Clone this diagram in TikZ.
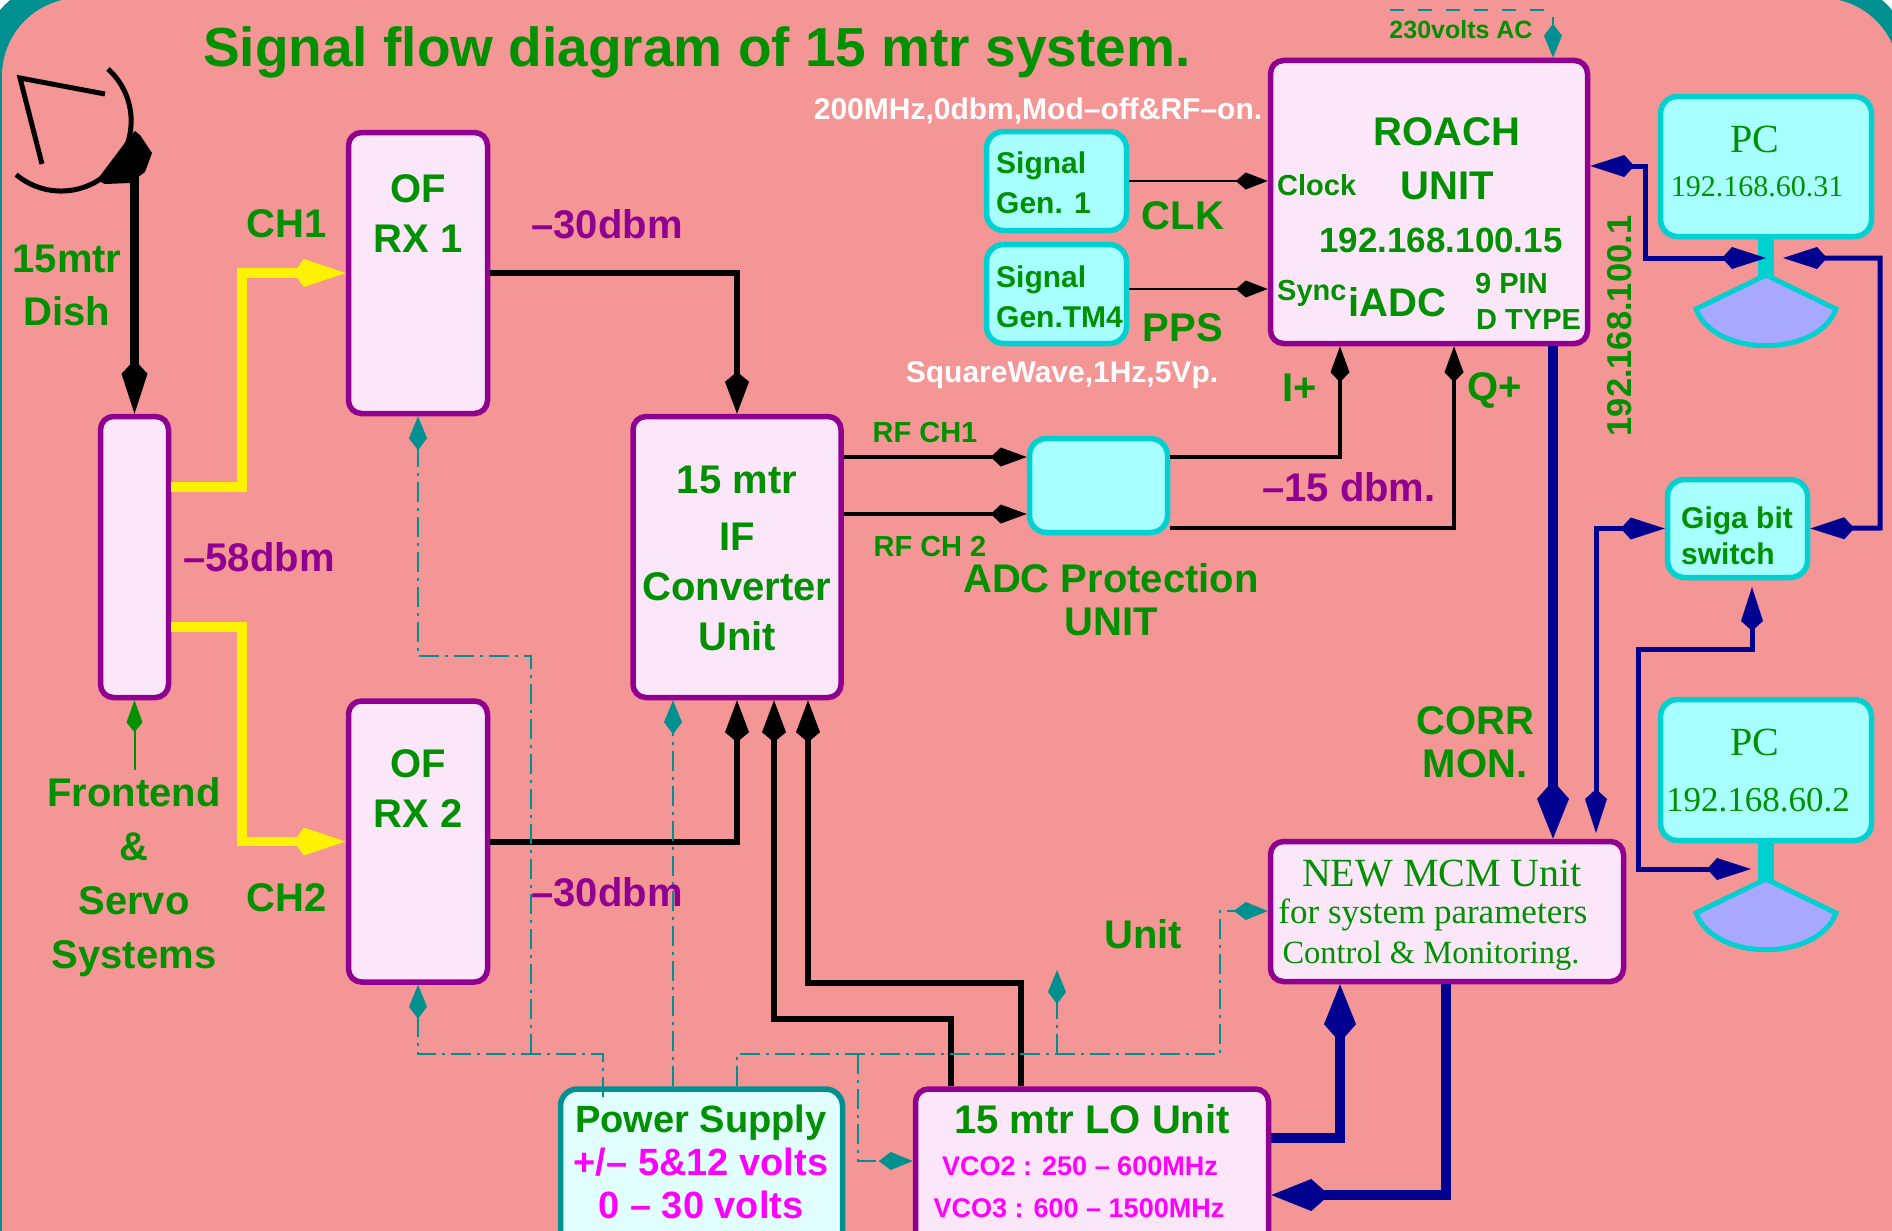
\documentclass[tikz,border=0pt]{standalone}
\usepackage{fontspec}
\setmainfont{Liberation Sans}
\newfontfamily\timesfont{Liberation Serif}
\usetikzlibrary{positioning, calc, arrows.meta}

\definecolor{bgpink}{RGB}{245,150,150}
\definecolor{figteal}{RGB}{0,144,144}
\definecolor{figgreen}{RGB}{0,144,0}
\definecolor{figpurple}{RGB}{144,0,144}
\definecolor{figcyan}{RGB}{0,208,208}
\definecolor{fignavy}{RGB}{0,0,144}
\definecolor{figmagenta}{RGB}{255,0,255}
\definecolor{boxpink}{RGB}{252,230,250}
\definecolor{boxcyan}{RGB}{168,255,255}
\definecolor{boxpower}{RGB}{226,255,255}
\definecolor{dishblue}{RGB}{168,168,255}
\newcommand{\bfs}[1]{\fontsize{#1}{#1}\selectfont\bfseries}
\newcommand{\tms}[1]{\fontsize{#1}{#1}\selectfont\timesfont}

\tikzset{
  unitbox/.style={draw=figpurple, fill=boxpink, line width=5.5pt, rounded corners=13pt},
  genbox/.style={draw=figcyan, fill=boxcyan, line width=5.5pt, rounded corners=17pt},
  lbl/.style={text=figgreen, font=\bfs{40}, inner sep=0pt, align=center},
  lvl/.style={text=figpurple, font=\bfs{40}, inner sep=0pt},
  volt/.style={text=figmagenta, inner sep=0pt},
  wlbl/.style={text=white, font=\bfs{30}, inner sep=0pt},
  rm/.style={text=figgreen, inner sep=0pt},
  yel/.style={draw=yellow, line width=9.5pt, -{Kite[length=52pt,width=28pt,inset=10pt]}},
  blk/.style={draw=black, line width=6pt, -{Kite[length=42pt,width=24pt,inset=10pt]}},
  thinblk/.style={draw=black, line width=2.5pt, -{Kite[length=32pt,width=17pt,inset=10pt]}},
  midblk/.style={draw=black, line width=4.5pt, -{Kite[length=36pt,width=19pt,inset=10pt]}},
  navb/.style={draw=fignavy, line width=5pt, {Kite[length=44pt,width=22pt,inset=10pt]}-{Kite[length=44pt,width=22pt,inset=10pt]}},
  navthick/.style={draw=fignavy, line width=10.5pt, -{Kite[length=58pt,width=32pt,inset=18pt]}},
  supply/.style={draw=figteal, line width=2.5pt, dash pattern=on 20pt off 6pt on 3pt off 6pt},
  supplyarr/.style={supply, -{Kite[length=34pt,width=18pt,inset=12pt]}},
}

\begin{document}
\begin{tikzpicture}[x=1pt,y=-1pt,line join=miter]
  \clip (0,0) rectangle (1892,1231);
  \fill[white] (0,0) rectangle (1892,1231);
  \fill[figteal, rounded corners=78pt] (-18,-18) rectangle (1910,1400);
  \fill[bgpink, rounded corners=78pt] (2,-2) rectangle (1899,1400);

  % boxes
  \node[unitbox, minimum width=68pt, minimum height=281pt] (split) at (134.5,557) {};
  \node[unitbox, minimum width=139pt, minimum height=281pt] (rxone) at (418,273) {};
  \node[unitbox, minimum width=139pt, minimum height=281pt] (rxtwo) at (418,841.5) {};
  \node[unitbox, minimum width=208pt, minimum height=281pt] (ifconv) at (737,557) {};
  \node[genbox, minimum width=138pt, minimum height=94pt] (adcprot) at (1098.5,485.5) {};
  \node[genbox, minimum width=140pt, minimum height=99pt] (gen1) at (1056.5,181) {};
  \node[genbox, minimum width=140pt, minimum height=99pt] (gen2) at (1056.5,294) {};
  \node[unitbox, minimum width=317pt, minimum height=283pt] (roach) at (1429,202) {};
  \node[genbox, minimum width=211pt, minimum height=140pt] (pcone) at (1766,166.5) {};
  \node[genbox, minimum width=140pt, minimum height=98pt] (giga) at (1737.5,528.5) {};
  \node[genbox, minimum width=211pt, minimum height=141pt] (pctwo) at (1766,770) {};
  \node[unitbox, minimum width=353pt, minimum height=140pt] (mcm) at (1447,911.5) {};
  \node[unitbox, minimum width=353pt, minimum height=170pt] (lounit) at (1092,1174) {};
  \node[genbox, draw=figteal, fill=boxpower, minimum width=282pt, minimum height=170pt] (power) at (701.5,1174) {};

  % PC stands
  \fill[figcyan] (1758,238) rectangle (1774,278);
  \fill[figcyan] (1758,842) rectangle (1774,882);
  \draw[draw=figcyan, fill=dishblue, line width=5pt] (1766,275) -- (1696,309) .. controls (1714,358) and (1818,358) .. (1836,309) -- cycle;
  \draw[draw=figcyan, fill=dishblue, line width=5pt] (1766,879) -- (1696,913) .. controls (1714,962) and (1818,962) .. (1836,913) -- cycle;

  % dish
  \draw[line width=5pt] (108,69) arc[start angle=48, end angle=-130, radius=70pt];
  \draw[line width=5pt] (105,94) -- (20,78) -- (42,164);
  \fill (97,180) -- (127,140) -- (135,131) -- (140,135) -- (152,153) -- (145,172) -- (130,183) -- (105,184) -- cycle;
  \coordinate (dishfoot) at (134.5,170);

  % free ends
  \coordinate (acstart) at (1390,10);
  \coordinate (acend) at (1546,10);
  \coordinate (acdrop) at (1553,17);
  \coordinate (frontend) at (134.5,770);
  \coordinate (pcminus) at (1766,258);
  \coordinate (pcplus) at (1783,258);
  \coordinate (pctwoin) at (1751,869);
  \coordinate (gigabelow) at (1752,587);
  \coordinate (mcmabove) at (1596,833);
  \coordinate (branchtip) at (1057,970);

  % signal path
  \draw[yel] ([yshift=70pt]split.east) -- (242,487) |- (rxone.west);
  \draw[yel] ([yshift=-70pt]split.east) -- (242,627) |- (rxtwo.west);
  \draw[blk, line width=9pt, -{Kite[length=54pt,width=26pt,inset=14pt]}] (dishfoot) -- (split.north);
  \draw[blk] (rxone.east) -| (ifconv.north);
  \draw[blk] (rxtwo.east) -| (ifconv.south);
  \draw[blk] (lounit.north -| 951,0) -- (951,1019) -- (774,1019) -- (ifconv.south -| 774,0);
  \draw[blk] (lounit.north -| 1021,0) -- (1021,983) -- (808,983) -- (ifconv.south -| 808,0);
  \draw[midblk] (ifconv.east |- 0,457) -- (adcprot.west |- 0,457);
  \draw[midblk] (ifconv.east |- 0,514) -- (adcprot.west |- 0,514);
  \draw[midblk] (adcprot.east |- 0,457) -| (roach.south -| 1340,0);
  \draw[midblk] (adcprot.east |- 0,528) -| (roach.south -| 1454,0);
  \draw[thinblk] (gen1.east) -- (roach.west |- gen1.east);
  \draw[thinblk] ([yshift=5pt]gen2.east) -- (roach.west |- 0,289);

  % network and monitoring
  \draw[navthick] (roach.south -| 1553,0) -- (mcm.north -| 1553,0);
  \draw[navthick] (lounit.east |- 0,1138) -| (mcm.south -| 1340,0);
  \draw[navthick] (mcm.south -| 1446,0) |- (lounit.east |- 0,1195);
  \draw[navb] (roach.east |- 0,166) -- (1645,166) |- (pcminus);
  \draw[navb] (giga.west) -| (mcmabove);
  \draw[navb] (giga.east) -- (1880,528) |- (pcplus);
  \draw[navb] (gigabelow) -- (1752,649) -- (1638,649) |- (pctwoin);

  % supply lines
  \draw[supplyarr] (603,1097) -- (603,1054) -- (418,1054) -- (rxtwo.south);
  \draw[supplyarr] (531,1054) -- (531,656) -- (418,656) -- (rxone.south);
  \draw[supplyarr] (power.north -| 673,0) -- (ifconv.south -| 673,0);
  \draw[supplyarr] (power.north -| 737,0) -- (737,1054) -- (1220,1054) -- (1220,911) -- (mcm.west |- 0,911);
  \draw[supplyarr] (1057,1054) -- (branchtip);
  \draw[supplyarr] (858,1054) -- (858,1161) -- (lounit.west |- 0,1161);
  \draw[figteal, line width=2.5pt, dash pattern=on 14pt off 14pt] (acstart) -- (acend);
  \draw[supplyarr, solid] (acdrop) -- (roach.north -| acdrop);
  \draw[draw=figgreen, line width=2pt, -{Kite[length=32pt,width=16pt,inset=10pt]}] (frontend) -- (split.south);

  % labels
  \node[lbl, font=\bfs{55}, anchor=west] (title) at (203,52) {Signal flow diagram of 15 mtr system.};
  \node[lbl] (dishlbl) at (67,285) {15mtr\\[13pt]Dish};
  \node[lbl] (chone) at (287,224) {CH1};
  \node[lbl] (chtwo) at (287,898) {CH2};
  \node[lvl] (lvlone) at (607,224) {--30dbm};
  \node[lvl] (lvltwo) at (607,892) {--30dbm};
  \node[lvl] (lvlsky) at (259,557) {--58dbm};
  \node[lvl] (lvladc) at (1349,487) {--15 dbm.};
  \node[lbl] (of1) at (418,214) {OF\\[10pt]RX 1};
  \node[lbl] (of2) at (418,789) {OF\\[10pt]RX 2};
  \node[lbl] (iflbl) at (737,558) {15 mtr\\[17pt]IF\\[10pt]Converter\\[10pt]Unit};
  \node[lbl, font=\bfs{29}] (rfone) at (925,433) {RF CH1};
  \node[lbl, font=\bfs{29}] (rftwo) at (930,547) {RF CH 2};
  \node[lbl] (adclbl) at (1111,600) {ADC Protection\\[3pt]UNIT};
  \node[lbl] (iplus) at (1300,388) {I+};
  \node[lbl] (qplus) at (1495,390) {Q+};
  \node[lbl] (clk) at (1183,216) {CLK};
  \node[lbl] (pps) at (1183,328) {PPS};
  \node[lbl, font=\bfs{30}, align=left, anchor=west] (gen1lbl) at (996,183) {Signal\\[10pt]Gen. 1};
  \node[lbl, font=\bfs{30}, align=left, anchor=west] (gen2lbl) at (996,297) {Signal\\[10pt]Gen.TM4};
  \node[wlbl] (clkset) at (1038,111) {200MHz,0dbm,Mod--off\&RF--on.};
  \node[wlbl] (ppsset) at (1062,375) {SquareWave,1Hz,5Vp.};
  \node[lbl, font=\bfs{25}] (aclbl) at (1461,30) {230volts AC};
  \node[lbl] (roachlbl) at (1447,132) {ROACH};
  \node[lbl] (unitlbl) at (1447,186) {UNIT};
  \node[lbl, font=\bfs{35}] (iplbl) at (1441,240) {192.168.100.15};
  \node[lbl, font=\bfs{29}, anchor=west] (clocklbl) at (1277,185) {Clock};
  \node[lbl, font=\bfs{29}, anchor=west] (synclbl) at (1277,293) {Sync};
  \node[lbl] (iadc) at (1397,302) {iADC};
  \node[lbl, font=\bfs{29}, anchor=west] (pinlbl) at (1475,284) {9 PIN};
  \node[lbl, font=\bfs{29}, anchor=west] (dtype) at (1476,320) {D TYPE};
  \node[lbl, font=\bfs{34.5}, rotate=90] (netlbl) at (1620,326) {192.168.100.1};
  \node[rm, font=\tms{40}] (pc1lbl) at (1755,139) {PC};
  \node[rm, font=\tms{30}] (pc1ip) at (1757,187) {192.168.60.31};
  \node[rm, font=\tms{40}] (pc2lbl) at (1755,742) {PC};
  \node[rm, font=\tms{35}] (pc2ip) at (1758,800) {192.168.60.2};
  \node[lbl, font=\bfs{30}, align=left, anchor=west] (gigalbl) at (1681,536) {Giga bit\\[6pt]switch};
  \node[lbl] (corr) at (1475,742) {CORR\\[3pt]MON.};
  \node[rm, font=\tms{40}] (mcm1) at (1442,874) {NEW MCM Unit};
  \node[rm, font=\tms{35}] (mcm2) at (1433,915) {for system parameters};
  \node[rm, font=\tms{32.5}] (mcm3) at (1431,956) {Control \& Monitoring.};
  \node[lbl] (front) at (134,877) {Frontend\\[14pt]\&\\[14pt]Servo\\[14pt]Systems};
  \node[lbl] (unitsig) at (1143,934) {Unit};
  \node[lbl, font=\bfs{38}] (pw1) at (701,1123) {Power Supply};
  \node[volt, font=\bfs{38}] (pw2) at (701,1162) {+/-- 5\&12 volts};
  \node[volt, font=\bfs{38}] (pw3) at (701,1205) {0 -- 30 volts};
  \node[lbl] (lo1) at (1092,1119) {15 mtr LO Unit};
  \node[volt, font=\bfs{27}] (lo2) at (1080,1166) {VCO2 : 250 -- 600MHz};
  \node[volt, font=\bfs{27}] (lo3) at (1079,1208) {VCO3 : 600 -- 1500MHz};
\end{tikzpicture}
\end{document}
